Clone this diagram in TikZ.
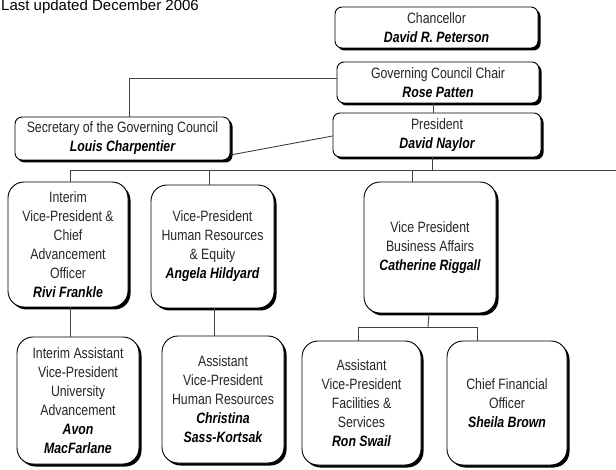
\documentclass[tikz,border=0pt]{standalone}
\usepackage{fontspec}
\setmainfont{Liberation Sans}[FakeStretch=0.82]
\newfontfamily\plainfont{Liberation Sans}
\usetikzlibrary{shadows}
\newcommand\pname[1]{{\color{black}\bfseries\itshape #1}}
\begin{document}
\begin{tikzpicture}[x=1pt,y=-1pt,
  box/.style={draw=black, line width=0.9pt, fill=white, rounded corners=7pt,
    drop shadow={shadow xshift=2.5pt, shadow yshift=-2.5pt, opacity=1, fill=black},
    align=center, inner sep=0pt, text=black!85,
    font=\fontsize{15}{19}\selectfont},
  bigbox/.style={box, rounded corners=16pt},
  conn/.style={draw=black!75, line width=0.9pt}]
\useasboundingbox (0,0) rectangle (616,470);
\node[anchor=base west, inner sep=0pt, font=\plainfont\fontsize{15}{18}\selectfont] (upd) at (1,11) {Last updated December 2006};

\node[box, minimum width=203, minimum height=41] (chan) at (436.5,27.5) {Chancellor\\\pname{David R. Peterson}};
\node[box, minimum width=202, minimum height=41] (chair) at (438,82.5) {Governing Council Chair\\\pname{Rose Patten}};
\node[box, minimum width=208, minimum height=44] (pres) at (437,135) {President\\\pname{David Naylor}};
\node[box, minimum width=215, minimum height=43] (sec) at (122.5,138.5) {Secretary of the Governing Council\\\pname{Louis Charpentier}};

\node[bigbox, minimum width=120, minimum height=125] (ivp) at (68,244.5) {Interim\\Vice-President \&\\Chief\\Advancement\\Officer\\\pname{Rivi Frankle}};
\node[bigbox, minimum width=123, minimum height=123] (vphr) at (212.5,246.5) {Vice-President\\Human Resources\\\& Equity\\\pname{Angela Hildyard}};
\node[bigbox, minimum width=132, minimum height=131] (vpba) at (430,247.5) {Vice President\\Business Affairs\\\pname{Catherine Riggall}};

\node[bigbox, minimum width=122, minimum height=127] (iavp) at (78,400.5) {Interim Assistant\\Vice-President\\University\\Advancement\\\pname{Avon}\\\pname{MacFarlane}};
\node[bigbox, minimum width=122, minimum height=127] (avphr) at (223,399.5) {Assistant\\Vice-President\\Human Resources\\\pname{Christina}\\\pname{Sass-Kortsak}};
\node[bigbox, minimum width=119, minimum height=124] (avpf) at (361.5,403) {Assistant\\Vice-President\\Facilities \&\\Services\\\pname{Ron Swail}};
\node[bigbox, minimum width=120, minimum height=124] (cfo) at (507,403) {Chief Financial\\Officer\\\pname{Sheila Brown}};

\coordinate (bus) at (0,170.5);
\coordinate (busend) at (616,170.5);
\coordinate (sub) at (0,327);

\begin{scope}[on background layer/.try]
\end{scope}
\draw[conn] ([yshift=4.5pt]chair.west) -| ([xshift=6.5pt]sec.north);
\draw[conn] ([yshift=-16.5pt]sec.east) -- ([yshift=-1pt]pres.west);
\draw[conn] ([xshift=-5pt]chair.south) -- ([xshift=-5pt]chair.south |- pres.north);
\draw[conn] ([xshift=-5pt]pres.south) -- ([xshift=-5pt]pres.south |- bus);
\draw[conn] ([xshift=2pt]ivp.north |- bus) -- (busend);
\draw[conn] ([xshift=2pt]ivp.north) -- ([xshift=2pt]ivp.north |- bus);
\draw[conn] ([xshift=-3.5pt]vphr.north) -- ([xshift=-3.5pt]vphr.north |- bus);
\draw[conn] ([xshift=-18pt]vpba.north) -- ([xshift=-18pt]vpba.north |- bus);
\draw[conn] ([xshift=2pt]ivp.south) -- ([xshift=2pt]ivp.south |- iavp.north);
\draw[conn] ([xshift=1.5pt]vphr.south) -- ([xshift=1.5pt]vphr.south |- avphr.north);
\draw[conn] ([xshift=-1pt]vpba.south) -- ([xshift=-2pt]vpba.south |- sub);
\draw[conn] ([xshift=-3.5pt]avpf.north) -- ([xshift=-3.5pt]avpf.north |- sub) -| ([xshift=-30pt]cfo.north);
\end{tikzpicture}
\end{document}
